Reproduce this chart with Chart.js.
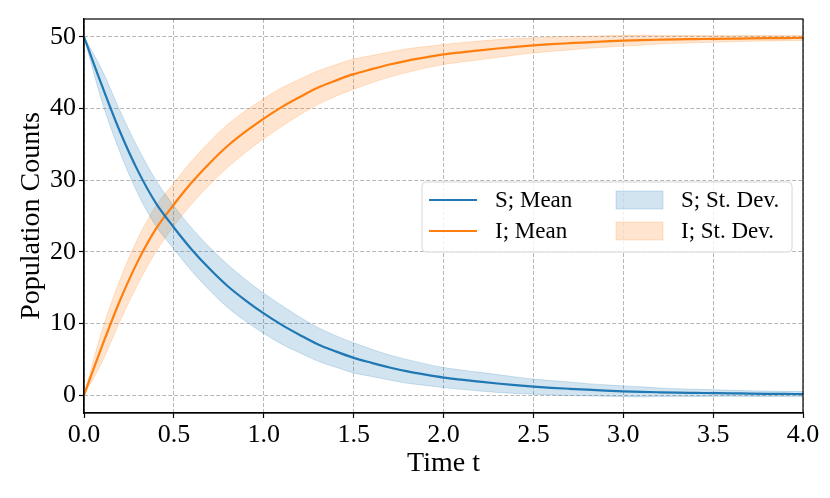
<!DOCTYPE html>
<html>
<head>
<meta charset="utf-8">
<script src="https://cdn.jsdelivr.net/npm/chart.js@4/dist/chart.umd.min.js"></script>
<style>
  html, body { margin: 0; padding: 0; background: #fff; }
  canvas { display: block; }
</style>
</head>
<body>
<canvas id="chart" width="830" height="498"></canvas>
<script>
// time grid and values
const tValues = [0.0, 0.1, 0.2, 0.3, 0.4, 0.5, 0.6, 0.7, 0.8, 0.9,
                 1.0, 1.1, 1.2, 1.3, 1.4, 1.5, 1.6, 1.7, 1.8, 1.9,
                 2.0, 2.1, 2.2, 2.3, 2.4, 2.5, 2.6, 2.7, 2.8, 2.9,
                 3.0, 3.1, 3.2, 3.3, 3.4, 3.5, 3.6, 3.7, 3.8, 3.9, 4.0];

const sMean = [50, 43.2, 36.8, 31.3, 26.8, 23.4, 20.3, 17.6, 15.2, 13.2,
               11.4, 9.8, 8.4, 7.1, 6.1, 5.2, 4.5, 3.85, 3.3, 2.85,
               2.45, 2.15, 1.88, 1.62, 1.38, 1.18, 1.02, 0.88, 0.75, 0.63,
               0.53, 0.45, 0.39, 0.34, 0.31, 0.28, 0.25, 0.21, 0.18, 0.16, 0.14];
const sStd = [0, 2.2, 2.9, 3.2, 3.2, 3.0, 3.0, 3.0, 3.0, 2.9,
              2.8, 2.7, 2.5, 2.35, 2.2, 2.1, 1.9, 1.75, 1.65, 1.5,
              1.4, 1.35, 1.3, 1.25, 1.15, 1.05, 1.0, 0.95, 0.85, 0.8,
              0.75, 0.7, 0.6, 0.55, 0.5, 0.46, 0.42, 0.4, 0.38, 0.36, 0.35];

const iMean = [0, 6.8, 13.2, 18.7, 23.2, 26.6, 29.7, 32.4, 34.8, 36.8,
               38.6, 40.2, 41.6, 42.9, 43.9, 44.8, 45.5, 46.15, 46.7, 47.15,
               47.55, 47.85, 48.12, 48.38, 48.62, 48.82, 48.98, 49.12, 49.25, 49.37,
               49.47, 49.55, 49.61, 49.66, 49.69, 49.72, 49.75, 49.79, 49.82, 49.84, 49.86];
const iStd = [0, 2.2, 2.9, 3.2, 3.2, 3.0, 3.0, 3.0, 3.0, 2.9,
              2.8, 2.7, 2.5, 2.35, 2.2, 2.1, 1.9, 1.75, 1.65, 1.5,
              1.4, 1.35, 1.3, 1.25, 1.15, 1.05, 1.0, 0.95, 0.85, 0.8,
              0.75, 0.7, 0.6, 0.55, 0.5, 0.46, 0.42, 0.4, 0.38, 0.36, 0.35];

const xTicks = [0.0, 0.5, 1.0, 1.5, 2.0, 2.5, 3.0, 3.5, 4.0];
const yTicks = [0, 10, 20, 30, 40, 50];

const BLUE = '#1f77b4';
const ORANGE = '#ff7f0e';
const BLUE_BAND = 'rgba(31,119,180,0.2)';
const ORANGE_BAND = 'rgba(255,127,14,0.2)';
const FONT = '"Liberation Serif", "Times New Roman", serif';

const pts = (ys) => tValues.map((t, i) => ({ x: t, y: ys[i] }));
const band = (mean, std, sign) => tValues.map((t, i) => ({ x: t, y: mean[i] + sign * std[i] }));

// full box around the axes, like matplotlib spines
const framePlugin = {
    id: 'frame',
    afterDatasetsDraw(chart) {
        const { ctx, chartArea: a } = chart;
        ctx.save();
        ctx.strokeStyle = '#000';
        ctx.lineWidth = 1.2;
        ctx.strokeRect(a.left, a.top, a.right - a.left, a.bottom - a.top);
        ctx.restore();
    }
};

// two-column legend box drawn inside the plot
const legendPlugin = {
    id: 'boxLegend',
    afterDraw(chart) {
        const ctx = chart.ctx;
        const ds = chart.data.datasets;
        const box = { x: 422, y: 182, w: 370, h: 70 };
        ctx.save();
        ctx.beginPath();
        ctx.roundRect(box.x, box.y, box.w, box.h, 4);
        ctx.fillStyle = 'rgba(255,255,255,0.8)';
        ctx.fill();
        ctx.strokeStyle = '#d6d6d6';
        ctx.lineWidth = 1;
        ctx.stroke();

        ctx.font = '23px ' + FONT;
        ctx.textBaseline = 'middle';
        ctx.fillStyle = '#000';
        const rows = [200, 231];
        // column 1: mean lines
        [0, 1].forEach((k, r) => {
            ctx.strokeStyle = ds[k].borderColor;
            ctx.lineWidth = 2.2;
            ctx.beginPath();
            ctx.moveTo(429, rows[r]);
            ctx.lineTo(477, rows[r]);
            ctx.stroke();
            ctx.fillStyle = '#000';
            ctx.fillText(ds[k].label, 495, rows[r] + 1);
        });
        // column 2: st. dev. patches
        [2, 4].forEach((k, r) => {
            ctx.fillStyle = ds[k].backgroundColor;
            ctx.fillRect(616, rows[r] - 9, 47, 18);
            ctx.strokeStyle = ds[k].borderColor;
            ctx.lineWidth = 1;
            ctx.strokeRect(616, rows[r] - 9, 47, 18);
            ctx.fillStyle = '#000';
            ctx.fillText(ds[k].label, 681, rows[r] + 1);
        });
        ctx.restore();
    }
};

const ctx = document.getElementById('chart').getContext('2d');
new Chart(ctx, {
    type: 'line',
    data: {
        datasets: [
            { label: 'S; Mean', data: pts(sMean), borderColor: BLUE, borderWidth: 2.2, fill: false, cubicInterpolationMode: 'monotone' },
            { label: 'I; Mean', data: pts(iMean), borderColor: ORANGE, borderWidth: 2.2, fill: false, cubicInterpolationMode: 'monotone' },
            { label: 'S; St. Dev.', data: band(sMean, sStd, 1), borderColor: BLUE_BAND, backgroundColor: BLUE_BAND, borderWidth: 1, fill: '+1', cubicInterpolationMode: 'monotone' },
            { label: '', data: band(sMean, sStd, -1), borderColor: BLUE_BAND, borderWidth: 1, fill: false, cubicInterpolationMode: 'monotone' },
            { label: 'I; St. Dev.', data: band(iMean, iStd, 1), borderColor: ORANGE_BAND, backgroundColor: ORANGE_BAND, borderWidth: 1, fill: '+1', cubicInterpolationMode: 'monotone' },
            { label: '', data: band(iMean, iStd, -1), borderColor: ORANGE_BAND, borderWidth: 1, fill: false, cubicInterpolationMode: 'monotone' }
        ]
    },
    options: {
        responsive: false,
        animation: false,
        layout: { padding: { left: 0, right: 27, top: 19, bottom: 0 } },
        elements: { point: { radius: 0, hoverRadius: 0 } },
        plugins: {
            legend: { display: false },
            tooltip: { enabled: false }
        },
        scales: {
            x: {
                type: 'linear',
                min: 0,
                max: 4,
                afterBuildTicks: (s) => { s.ticks = xTicks.map(v => ({ value: v })); },
                afterFit: (s) => { s.height = 85; },
                ticks: {
                    color: '#000',
                    font: { family: FONT, size: 26 },
                    padding: 2,
                    maxRotation: 0,
                    autoSkip: false,
                    callback: (v) => Number(v).toFixed(1)
                },
                grid: { color: '#b0b0b0', lineWidth: 0.9, tickLength: 5, tickColor: '#000', tickWidth: 1.2 },
                border: { display: true, color: '#000', width: 1.2, dash: [4, 2] },
                title: { display: true, text: 'Time t', color: '#000', font: { family: FONT, size: 28 }, padding: { top: 0, bottom: 18 } }
            },
            y: {
                type: 'linear',
                min: -2.5,
                max: 52.5,
                afterBuildTicks: (s) => { s.ticks = yTicks.map(v => ({ value: v })); },
                afterFit: (s) => { s.width = 84; },
                ticks: {
                    color: '#000',
                    font: { family: FONT, size: 26 },
                    padding: 3,
                    autoSkip: false,
                    callback: (v) => String(v)
                },
                grid: { color: '#b0b0b0', lineWidth: 0.9, tickLength: 5, tickColor: '#000', tickWidth: 1.2 },
                border: { display: true, color: '#000', width: 1.2, dash: [4, 2] },
                title: { display: true, text: 'Population Counts', color: '#000', font: { family: FONT, size: 28 }, padding: { top: 15, bottom: 0 } }
            }
        }
    },
    plugins: [framePlugin, legendPlugin]
});
</script>
</body>
</html>
